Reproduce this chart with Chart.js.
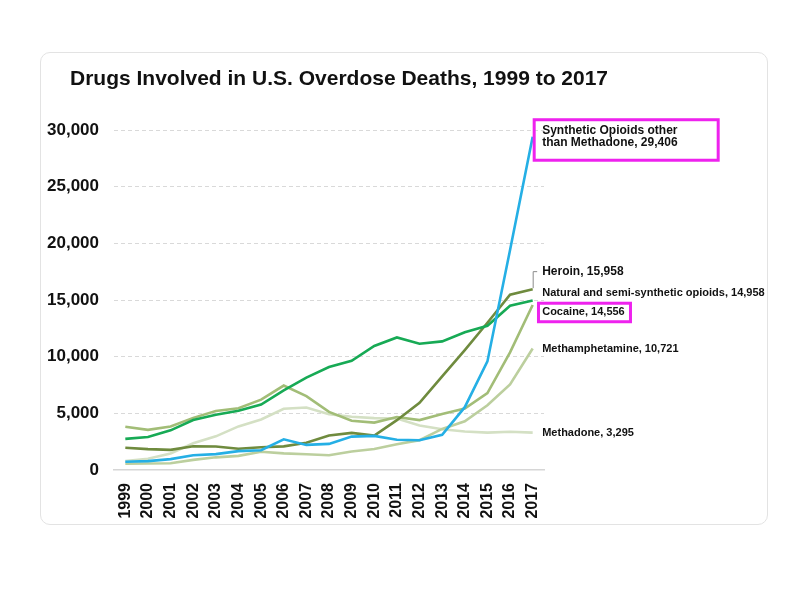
<!DOCTYPE html>
<html>
<head>
<meta charset="utf-8">
<script src="https://cdn.jsdelivr.net/npm/chart.js@4"></script>
<style>
  html, body { margin: 0; padding: 0; background: #fff; }
  #wrap { position: relative; width: 788px; height: 589px; }
  #card { position: absolute; left: 40px; top: 52px; width: 728px; height: 473px;
          border: 1px solid #e3e3e3; border-radius: 10px; box-sizing: border-box; }
  #c { position: absolute; left: 0; top: 0; }
</style>
</head>
<body>
<div id="wrap">
  <div id="card"></div>
  <canvas id="c" width="788" height="589"></canvas>
</div>
<script>
const titleText = "Drugs Involved in U.S. Overdose Deaths, 1999 to 2017";
const years = ["1999","2000","2001","2002","2003","2004","2005","2006","2007","2008",
               "2009","2010","2011","2012","2013","2014","2015","2016","2017"];
const yTicks = [0, 5000, 10000, 15000, 20000, 25000, 30000];

const syntheticOpioids = [730, 782, 957, 1295, 1400, 1664, 1742, 2707, 2213, 2306,
                          2946, 3007, 2666, 2628, 3105, 5544, 9580, 19413, 29406];
const naturalSemiSynthetic = [2749, 2917, 3497, 4416, 4867, 5231, 5770, 7017, 8158, 9084,
                              9637, 10943, 11693, 11140, 11346, 12159, 12727, 14487, 14958];
const heroin = [1960, 1842, 1779, 2089, 2080, 1878, 2009, 2088, 2399, 3041,
                3278, 3036, 4397, 5925, 8257, 10574, 12989, 15469, 15958];
const cocaine = [3822, 3544, 3833, 4599, 5199, 5443, 6208, 7448, 6512, 5129,
                 4350, 4183, 4681, 4404, 4944, 5415, 6784, 10375, 14556];
const methamphetamine = [547, 578, 594, 896, 1118, 1244, 1605, 1468, 1392, 1302,
                         1632, 1854, 2266, 2635, 3627, 4298, 5716, 7542, 10721];
const methadone = [784, 986, 1456, 2358, 2972, 3845, 4460, 5406, 5518, 4924,
                   4696, 4577, 4545, 3932, 3591, 3400, 3301, 3373, 3295];

const seriesNames = ["Synthetic Opioids other than Methadone", "Natural and semi-synthetic opioids",
                     "Heroin", "Cocaine", "Methamphetamine", "Methadone"];
const seriesData = [syntheticOpioids, naturalSemiSynthetic, heroin, cocaine, methamphetamine, methadone];
const seriesColors = ["#25afe5", "#17aa55", "#6f8b3e", "#a2bd77", "#bccf9e", "#d4e0c4"];

// end-label styling (text lines, vertical offset from the line end in px, font size, box)
const endLabels = [
  { lines: ["Synthetic Opioids other", "than Methadone, 29,406"], dy: 0, lh: 12.6, size: 12,
    box: { dx: 0, top: -18.5, w: 187, h: 43.5 } },
  { lines: ["Natural and semi-synthetic opioids, 14,958"], dy: -8, size: 11 },
  { lines: ["Heroin, 15,958"], dy: -17.5, size: 12, leader: true },
  { lines: ["Cocaine, 14,556"], dy: 6.7, size: 11, box: { dx: 4.3, top: -10, w: 95, h: 21.5 } },
  { lines: ["Methamphetamine, 10,721"], dy: 0.5, size: 11 },
  { lines: ["Methadone, 3,295"], dy: 0, size: 11 }
];

const FONT = "'Liberation Sans', Arial, Helvetica, sans-serif";

const annotatePlugin = {
  id: 'annotate',
  afterDraw(chart) {
    const ctx = chart.ctx;
    ctx.save();
    // title
    ctx.fillStyle = '#111';
    ctx.font = "bold 21px " + FONT;
    ctx.textAlign = 'left';
    ctx.textBaseline = 'alphabetic';
    ctx.fillText(titleText, 70, 85);
    // end labels
    const xs = chart.scales.x, ys = chart.scales.y;
    const last = years.length - 1;
    const xEnd = xs.getPixelForValue(last);
    endLabels.forEach((lab, i) => {
      const yEnd = ys.getPixelForValue(seriesData[i][last]);
      const yc = yEnd + lab.dy;
      ctx.font = "bold " + lab.size + "px " + FONT;
      ctx.fillStyle = '#111';
      ctx.textBaseline = 'middle';
      const n = lab.lines.length;
      const lh = lab.lh || lab.size * 1.15;
      lab.lines.forEach((t, k) => {
        ctx.fillText(t, xEnd + 9.5, yc + (k - (n - 1) / 2) * lh);
      });
      if (lab.box) {
        ctx.strokeStyle = '#ee22ee';
        ctx.lineWidth = 3;
        ctx.strokeRect(xEnd + lab.box.dx + 1.5, yc + lab.box.top + 1.5, lab.box.w - 3, lab.box.h - 3);
      }
      if (lab.leader) {
        ctx.strokeStyle = '#8a8a8a';
        ctx.lineWidth = 1;
        ctx.beginPath();
        ctx.moveTo(xEnd + 4.5, yc);
        ctx.lineTo(xEnd + 0.5, yc);
        ctx.lineTo(xEnd + 0.5, yEnd - 1);
        ctx.stroke();
      }
    });
    ctx.restore();
  }
};

const datasets = seriesNames.map((name, i) => ({
  label: name,
  data: seriesData[i],
  borderColor: seriesColors[i],
  backgroundColor: seriesColors[i],
  borderWidth: 2.6,
  pointRadius: 0,
  tension: 0,
  fill: false
}));

new Chart(document.getElementById('c'), {
  type: 'line',
  data: { labels: years, datasets },
  options: {
    responsive: false,
    animation: false,
    devicePixelRatio: 1,
    layout: { padding: { left: 46, right: 244, top: 130, bottom: 69 } },
    plugins: { legend: { display: false }, tooltip: { enabled: false }, title: { display: false } },
    scales: {
      x: {
        offset: true,
        grid: { display: false, drawTicks: false },
        border: { display: true, color: '#d6d6d6', width: 1.5 },
        afterFit: s => { s.height = 50; },
        ticks: {
          autoSkip: false, minRotation: 90, maxRotation: 90, padding: 13,
          color: '#111', font: { family: FONT, size: 16, weight: 'bold' }
        }
      },
      y: {
        min: 0, max: 30000,
        afterFit: s => { s.width = 68; },
        afterBuildTicks: s => { s.ticks = yTicks.map(v => ({ value: v })); },
        grid: {
          color: ctx => ctx.tick && ctx.tick.value === 0 ? 'rgba(0,0,0,0)' : '#d9d9d9',
          lineWidth: 1, drawTicks: false
        },
        border: { display: false, dash: [4, 3] },
        ticks: {
          padding: 15, color: '#111',
          font: { family: FONT, size: 17, weight: 'bold' },
          callback: v => Number(v).toLocaleString('en-US')
        }
      }
    }
  },
  plugins: [annotatePlugin]
});
</script>
</body>
</html>
